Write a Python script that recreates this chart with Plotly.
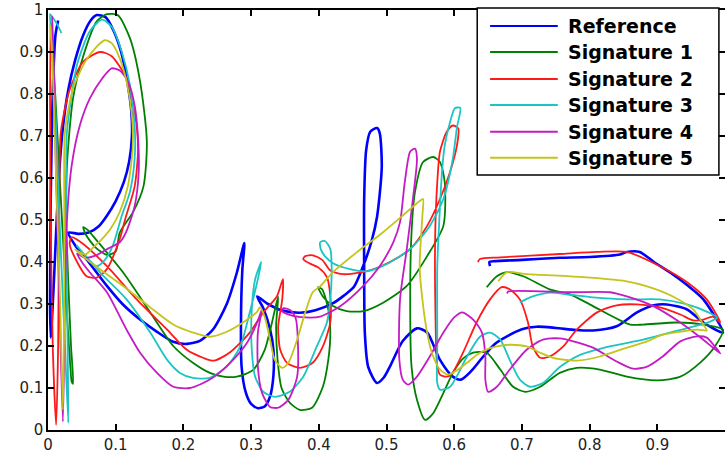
import plotly.graph_objects as go

# ---- data (x, y) ----
reference = [(0.015,0.975),(0.011,0.94),(0.007,0.8),(0.004,0.55),(0.003,0.3),(0.004,0.22),(0.008,0.33),(0.012,0.47),(0.016,0.6),(0.022,0.72),(0.03,0.81),(0.04,0.88),(0.052,0.94),(0.063,0.975),(0.072,0.988),(0.085,0.983),(0.097,0.95),(0.108,0.9),(0.117,0.83),(0.123,0.76),(0.124,0.7),(0.12,0.64),(0.112,0.59),(0.1,0.545),(0.087,0.51),(0.075,0.485),(0.06,0.47),(0.045,0.467),(0.03,0.47),
    (0.04,0.44),(0.06,0.4),(0.087,0.343),(0.11,0.3),(0.136,0.263),(0.16,0.235),(0.185,0.21),(0.205,0.205),(0.225,0.213),(0.244,0.24),(0.264,0.3),(0.279,0.375),(0.29,0.445),
    (0.287,0.38),(0.285,0.25),(0.286,0.15),(0.292,0.09),(0.3,0.062),(0.31,0.052),(0.32,0.056),(0.328,0.08),(0.333,0.13),(0.333,0.19),(0.328,0.24),(0.318,0.29),(0.309,0.318),
    (0.325,0.3),(0.345,0.285),(0.372,0.279),(0.395,0.285),(0.421,0.302),(0.437,0.32),(0.452,0.341),(0.465,0.388),(0.478,0.45),(0.486,0.507),(0.493,0.626),(0.49,0.707),(0.486,0.719),(0.476,0.71),(0.47,0.667),(0.467,0.548),(0.467,0.388),(0.468,0.231),(0.473,0.15),(0.486,0.112),(0.496,0.125),(0.505,0.151),(0.524,0.212),(0.545,0.242),(0.56,0.232),(0.579,0.167),(0.598,0.127),(0.61,0.12),(0.625,0.14),(0.643,0.175),(0.66,0.205),(0.678,0.223),(0.7,0.24),(0.722,0.246),(0.75,0.243),(0.78,0.238),(0.805,0.237),(0.84,0.247),(0.87,0.28),(0.895,0.297),(0.914,0.299),(0.944,0.287),(0.968,0.256),(0.997,0.232),
    (0.968,0.311),(0.944,0.345),(0.919,0.375),(0.895,0.4),(0.874,0.424),(0.855,0.424),(0.845,0.418),(0.8,0.412),(0.756,0.41),(0.7,0.405),(0.66,0.402),(0.652,0.4),(0.653,0.39)]

signature_1 = [(0.005,0.965),(0.009,0.85),(0.014,0.7),(0.019,0.55),(0.024,0.4),(0.029,0.25),(0.033,0.15),(0.035,0.115),(0.037,0.11),(0.034,0.2),(0.03,0.35),(0.027,0.5),(0.028,0.63),(0.037,0.79),(0.052,0.89),(0.072,0.973),(0.087,0.99),(0.103,0.988),(0.121,0.933),(0.136,0.83),(0.146,0.687),(0.141,0.58),(0.126,0.52),(0.106,0.47),(0.1,0.425),(0.087,0.417),(0.07,0.435),(0.056,0.465),(0.052,0.483),(0.058,0.477),(0.07,0.455),(0.111,0.375),(0.151,0.28),(0.185,0.2),(0.214,0.16),(0.239,0.136),(0.259,0.127),(0.279,0.127),(0.303,0.143),(0.32,0.19),(0.33,0.25),(0.34,0.318),(0.337,0.25),(0.339,0.17),(0.345,0.1),(0.357,0.065),(0.372,0.048),(0.39,0.053),(0.406,0.103),(0.414,0.167),(0.417,0.232),(0.414,0.287),(0.405,0.335),(0.399,0.34),(0.406,0.318),(0.421,0.295),(0.441,0.283),(0.466,0.283),(0.495,0.303),(0.53,0.343),(0.56,0.414),(0.584,0.486),(0.586,0.59),(0.579,0.638),(0.569,0.65),(0.554,0.638),(0.542,0.566),(0.537,0.471),(0.535,0.311),(0.537,0.151),(0.545,0.072),(0.557,0.024),(0.569,0.04),(0.584,0.088),(0.598,0.136),(0.613,0.17),(0.628,0.184),(0.648,0.184),(0.668,0.144),(0.687,0.103),(0.705,0.091),(0.727,0.103),(0.756,0.136),(0.781,0.148),(0.815,0.144),(0.855,0.127),(0.9,0.118),(0.934,0.127),(0.963,0.16),(0.985,0.199),(0.997,0.239),(0.968,0.251),(0.929,0.256),(0.879,0.251),(0.86,0.251),(0.805,0.295),(0.771,0.323),(0.741,0.335),(0.702,0.366),(0.678,0.376),(0.663,0.366),(0.648,0.34)]

signature_2 = [(0.004,0.97),(0.003,0.8),(0.004,0.5),(0.007,0.2),(0.012,0.012),(0.015,0.2),(0.016,0.45),(0.017,0.6),(0.019,0.71),(0.032,0.81),(0.052,0.877),(0.077,0.9),(0.094,0.89),(0.116,0.837),(0.128,0.758),(0.133,0.67),(0.128,0.58),(0.114,0.502),(0.106,0.455),(0.087,0.383),(0.072,0.363),(0.057,0.366),(0.043,0.4),(0.032,0.443),(0.035,0.459),(0.052,0.443),(0.087,0.39),(0.131,0.311),(0.176,0.239),(0.205,0.191),(0.229,0.172),(0.245,0.165),(0.269,0.185),(0.298,0.232),(0.318,0.28),(0.338,0.318),(0.347,0.359),(0.346,0.311),(0.34,0.246),(0.343,0.191),(0.353,0.16),(0.372,0.148),(0.391,0.16),(0.406,0.199),(0.417,0.256),(0.417,0.318),(0.412,0.364),(0.4,0.386),(0.386,0.397),(0.377,0.407),(0.38,0.414),(0.391,0.416),(0.405,0.405),(0.417,0.38),(0.436,0.371),(0.471,0.378),(0.505,0.4),(0.535,0.431),(0.56,0.486),(0.579,0.55),(0.594,0.615),(0.604,0.677),(0.606,0.718),(0.598,0.725),(0.589,0.71),(0.579,0.663),(0.575,0.59),(0.572,0.471),(0.572,0.311),(0.575,0.151),(0.579,0.132),(0.589,0.127),(0.597,0.135),(0.613,0.184),(0.633,0.256),(0.653,0.311),(0.67,0.34),(0.682,0.335),(0.697,0.311),(0.709,0.256),(0.716,0.199),(0.727,0.172),(0.741,0.175),(0.761,0.199),(0.781,0.239),(0.811,0.28),(0.84,0.297),(0.87,0.299),(0.904,0.292),(0.934,0.275),(0.953,0.261),(0.968,0.263),(0.982,0.27),(0.993,0.256),(0.973,0.311),(0.944,0.352),(0.904,0.39),(0.855,0.424),(0.811,0.424),(0.756,0.419),(0.668,0.411),(0.638,0.407),(0.635,0.4)]

signature_3 = [(0.02,0.945),(0.012,0.97),(0.003,0.99),(0.005,0.95),(0.01,0.8),(0.017,0.5),(0.025,0.2),(0.03,0.017),(0.029,0.2),(0.027,0.45),(0.027,0.6),(0.028,0.71),(0.043,0.87),(0.062,0.95),(0.08,0.977),(0.094,0.96),(0.109,0.9),(0.121,0.821),(0.128,0.725),(0.128,0.646),(0.121,0.567),(0.109,0.51),(0.096,0.44),(0.084,0.405),(0.072,0.39),(0.058,0.41),(0.042,0.44),(0.05,0.425),(0.08,0.37),(0.116,0.311),(0.151,0.232),(0.176,0.167),(0.195,0.136),(0.214,0.124),(0.239,0.124),(0.264,0.151),(0.284,0.199),(0.298,0.28),(0.309,0.352),(0.315,0.4),(0.306,0.359),(0.301,0.287),(0.301,0.191),(0.306,0.127),(0.318,0.091),(0.335,0.079),(0.357,0.091),(0.377,0.127),(0.397,0.199),(0.412,0.256),(0.417,0.311),(0.419,0.39),(0.417,0.431),(0.409,0.45),(0.402,0.447),(0.403,0.43),(0.41,0.412),(0.421,0.397),(0.446,0.383),(0.471,0.378),(0.5,0.395),(0.535,0.431),(0.564,0.486),(0.584,0.55),(0.598,0.646),(0.604,0.72),(0.609,0.767),(0.601,0.766),(0.594,0.734),(0.586,0.677),(0.582,0.615),(0.578,0.5),(0.575,0.39),(0.575,0.2),(0.575,0.112),(0.579,0.096),(0.594,0.103),(0.619,0.175),(0.638,0.222),(0.653,0.232),(0.668,0.215),(0.682,0.167),(0.697,0.12),(0.712,0.103),(0.731,0.112),(0.756,0.15),(0.786,0.179),(0.83,0.199),(0.879,0.215),(0.919,0.232),(0.953,0.246),(0.978,0.258),(0.988,0.268),(0.973,0.282),(0.944,0.299),(0.904,0.311),(0.855,0.311),(0.805,0.316),(0.771,0.322),(0.741,0.327),(0.716,0.318),(0.697,0.304)]

signature_4 = [(0.006,0.985),(0.008,0.9),(0.012,0.6),(0.017,0.3),(0.022,0.02),(0.025,0.3),(0.028,0.5),(0.035,0.63),(0.047,0.725),(0.062,0.79),(0.08,0.837),(0.094,0.861),(0.106,0.856),(0.118,0.83),(0.128,0.773),(0.133,0.694),(0.134,0.615),(0.128,0.533),(0.115,0.47),(0.106,0.447),(0.09,0.433),(0.07,0.415),(0.055,0.41),(0.043,0.42),(0.05,0.4),(0.062,0.375),(0.087,0.328),(0.116,0.239),(0.136,0.184),(0.161,0.136),(0.185,0.103),(0.21,0.1),(0.239,0.12),(0.269,0.16),(0.294,0.208),(0.309,0.256),(0.316,0.287),(0.31,0.232),(0.31,0.151),(0.316,0.089),(0.328,0.055),(0.34,0.053),(0.355,0.072),(0.368,0.127),(0.369,0.215),(0.366,0.265),(0.358,0.285),(0.348,0.29),(0.345,0.284),(0.357,0.274),(0.38,0.268),(0.402,0.27),(0.431,0.294),(0.465,0.342),(0.49,0.39),(0.51,0.447),(0.52,0.495),(0.527,0.59),(0.535,0.663),(0.542,0.67),(0.545,0.646),(0.539,0.55),(0.53,0.431),(0.52,0.311),(0.519,0.167),(0.524,0.12),(0.532,0.108),(0.545,0.127),(0.564,0.175),(0.584,0.232),(0.6,0.268),(0.612,0.28),(0.628,0.263),(0.641,0.232),(0.646,0.175),(0.646,0.12),(0.65,0.091),(0.663,0.103),(0.682,0.144),(0.707,0.191),(0.731,0.215),(0.756,0.218),(0.776,0.211),(0.805,0.196),(0.84,0.163),(0.864,0.146),(0.885,0.151),(0.908,0.175),(0.934,0.211),(0.959,0.223),(0.973,0.22),(0.985,0.199),(0.993,0.182),(0.968,0.215),(0.934,0.256),(0.894,0.295),(0.855,0.318),(0.83,0.328),(0.771,0.328),(0.68,0.33),(0.678,0.325)]

signature_5 = [(0.003,0.965),(0.006,0.9),(0.012,0.6),(0.018,0.3),(0.022,0.048),(0.024,0.3),(0.024,0.55),(0.025,0.71),(0.037,0.813),(0.055,0.877),(0.072,0.913),(0.084,0.928),(0.094,0.921),(0.106,0.885),(0.116,0.83),(0.124,0.749),(0.125,0.67),(0.118,0.581),(0.106,0.519),(0.092,0.478),(0.08,0.455),(0.067,0.435),(0.055,0.418),(0.04,0.43),(0.062,0.4),(0.111,0.343),(0.151,0.292),(0.185,0.251),(0.214,0.232),(0.239,0.222),(0.264,0.234),(0.288,0.256),(0.309,0.282),(0.313,0.292),(0.32,0.27),(0.328,0.215),(0.335,0.167),(0.346,0.148),(0.355,0.16),(0.368,0.215),(0.38,0.28),(0.391,0.328),(0.402,0.342),(0.421,0.376),(0.456,0.423),(0.495,0.471),(0.53,0.519),(0.549,0.545),(0.554,0.55),(0.553,0.51),(0.549,0.39),(0.553,0.311),(0.56,0.232),(0.567,0.184),(0.579,0.144),(0.591,0.132),(0.604,0.142),(0.619,0.16),(0.638,0.184),(0.663,0.199),(0.682,0.203),(0.707,0.199),(0.727,0.184),(0.746,0.172),(0.771,0.166),(0.781,0.165),(0.815,0.175),(0.855,0.196),(0.885,0.211),(0.908,0.227),(0.934,0.234),(0.959,0.239),(0.973,0.237),(0.968,0.251),(0.953,0.287),(0.923,0.318),(0.885,0.342),(0.855,0.354),(0.815,0.361),(0.771,0.366),(0.707,0.371),(0.678,0.376),(0.665,0.354)]

series_names = ["Reference", "Signature 1", "Signature 2", "Signature 3", "Signature 4", "Signature 5"]
series_data = [reference, signature_1, signature_2, signature_3, signature_4, signature_5]
tick_values = [0, 0.1, 0.2, 0.3, 0.4, 0.5, 0.6, 0.7, 0.8, 0.9, 1]
tick_labels = ["0", "0.1", "0.2", "0.3", "0.4", "0.5", "0.6", "0.7", "0.8", "0.9", "1"]

# ---- styles ----
colors = ["#0000FF", "#008000", "#FF1A1A", "#1CC4C4", "#C41CC4", "#C4C41C"]
widths = [2.6, 1.8, 1.8, 1.8, 1.8, 1.8]

fig = go.Figure()
for name, pts, c, w in zip(series_names, series_data, colors, widths):
    fig.add_trace(go.Scatter(
        x=[p[0] for p in pts], y=[p[1] for p in pts], mode="lines", name=name,
        line=dict(color=c, width=w, shape="spline", smoothing=0.7),
        showlegend=False))

axis_common = dict(range=[0, 1], tickmode="array", tickvals=tick_values, ticktext=tick_labels,
                   ticks="inside", ticklen=6, tickwidth=1.5, tickcolor="black",
                   showline=True, linewidth=1.5, linecolor="black", mirror="ticks",
                   showgrid=False, zeroline=False, automargin=False,
                   tickfont=dict(family="DejaVu Sans", size=15, color="#222222"))
fig.update_xaxes(**axis_common)
fig.update_yaxes(**axis_common)

# ---- legend box (drawn in paper coordinates) ----
lx0, lx1, ly0, ly1 = 0.634, 0.991, 0.607, 1.005
shapes = [dict(type="rect", xref="paper", yref="paper", x0=lx0, x1=lx1, y0=ly0, y1=ly1,
               fillcolor="white", line=dict(color="black", width=1.5), layer="above")]
annotations = []
row_y = [0.962, 0.900, 0.836, 0.774, 0.710, 0.648]
for name, c, yy in zip(series_names, colors, row_y):
    shapes.append(dict(type="line", xref="paper", yref="paper", x0=0.653, x1=0.753, y0=yy, y1=yy,
                       line=dict(color=c, width=2), layer="above"))
    annotations.append(dict(xref="paper", yref="paper", x=0.765, y=yy, text=name, showarrow=False,
                            xanchor="left", yanchor="middle",
                            font=dict(family="DejaVu Sans", size=19, color="black", weight="bold")))

fig.update_layout(width=725, height=458, template="none",
                  margin=dict(l=48, r=0, t=10, b=28),
                  paper_bgcolor="white", plot_bgcolor="white",
                  shapes=shapes, annotations=annotations, showlegend=False)

fig.write_html("out.html", config={"displayModeBar": False},
               post_script="document.body.style.margin='0';document.body.style.overflow='hidden';")
